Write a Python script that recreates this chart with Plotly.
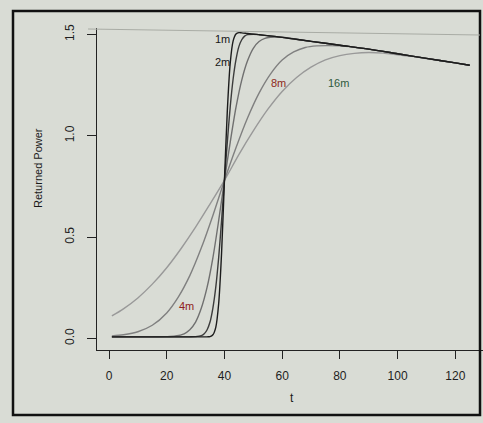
import plotly.graph_objects as go

# ---- data ----
t_1m = [1, 10, 20, 30, 34, 35, 36, 37, 38, 39, 40, 41, 42, 43, 44, 45, 46, 48, 50, 60, 70, 80, 90, 100, 110, 120, 125]
v_1m = [0.008, 0.008, 0.008, 0.008, 0.008, 0.009, 0.018, 0.055, 0.171, 0.419, 0.78, 1.123, 1.358, 1.467, 1.502,
        1.509, 1.508, 1.505, 1.502, 1.486, 1.466, 1.447, 1.428, 1.405, 1.382, 1.36, 1.348]

t_2m = [1, 10, 20, 25, 28, 30, 32, 33, 34, 35, 36, 37, 38, 39, 40, 41, 42, 43, 44, 45, 46, 47, 48, 50, 52, 55,
        60, 70, 80, 90, 100, 110, 120, 125]
v_2m = [0.008, 0.008, 0.008, 0.008, 0.008, 0.009, 0.014, 0.023, 0.043, 0.081, 0.150, 0.253, 0.398, 0.581, 0.78,
        0.969, 1.142, 1.279, 1.376, 1.440, 1.474, 1.492, 1.499, 1.501, 1.499, 1.494, 1.486, 1.466, 1.447, 1.428,
        1.405, 1.382, 1.36, 1.348]

t_4m = [1, 10, 15, 20, 23, 26, 28, 30, 32, 34, 36, 38, 40, 42, 44, 46, 48, 50, 52, 54, 56, 58, 60, 70, 80, 90,
        100, 110, 120, 125]
v_4m = [0.008, 0.008, 0.008, 0.009, 0.012, 0.023, 0.043, 0.081, 0.150, 0.253, 0.398, 0.581, 0.78, 0.968, 1.140,
        1.275, 1.370, 1.432, 1.465, 1.481, 1.486, 1.487, 1.486, 1.466, 1.447, 1.428, 1.405, 1.382, 1.36, 1.348]

t_8m = [1, 5, 10, 15, 20, 24, 28, 32, 36, 40, 44, 48, 52, 56, 60, 64, 68, 72, 76, 80, 85, 90, 100, 110, 120, 125]
v_8m = [0.012, 0.018, 0.033, 0.065, 0.126, 0.204, 0.310, 0.447, 0.607, 0.78, 0.941, 1.088, 1.211, 1.306, 1.374,
        1.414, 1.436, 1.444, 1.445, 1.444, 1.437, 1.428, 1.405, 1.382, 1.36, 1.348]

t_16m = [1, 5, 10, 15, 20, 25, 30, 35, 40, 45, 50, 55, 60, 65, 70, 75, 80, 85, 90, 95, 100, 105, 110, 120, 125]
v_16m = [0.111, 0.146, 0.200, 0.268, 0.349, 0.444, 0.549, 0.663, 0.78, 0.907, 1.024, 1.130, 1.219, 1.288, 1.339,
         1.375, 1.396, 1.407, 1.411, 1.408, 1.400, 1.392, 1.381, 1.36, 1.348]

labels = ["1m", "2m", "4m", "8m", "16m"]
label_t = [39.2, 39.5, 27.0, 58.9, 79.4]
label_v = [1.477, 1.364, 0.159, 1.26, 1.26]
label_colors = ["#151515", "#151515", "#8e2020", "#8e2a20", "#2f5a3c"]

x_ticks = [0, 20, 40, 60, 80, 100, 120]
y_ticks = [0.0, 0.5, 1.0, 1.5]
y_ticktext = ["0.0", "0.5", "1.0", "1.5"]

# ---- figure ----
BG = "#d9dcd5"
W, H = 483, 423
L, R, T, B = 97, 0, 28, 73
PW, PH = W - L - R, H - T - B


def px(x):
    return (x - L) / PW


def py(y):
    return (H - B - y) / PH


fig = go.Figure()
series = [
    (t_16m, v_16m, "#999999"),
    (t_8m, v_8m, "#808080"),
    (t_4m, v_4m, "#707070"),
    (t_2m, v_2m, "#3c3c3c"),
    (t_1m, v_1m, "#1c1c1c"),
]
for tt, vv, col in series:
    fig.add_trace(go.Scatter(x=tt, y=vv, mode="lines",
                             line=dict(color=col, width=1.4, shape="spline", smoothing=0.8),
                             hoverinfo="skip"))

for lab, lt, lv, lc in zip(labels, label_t, label_v, label_colors):
    fig.add_annotation(x=lt, y=lv, text=lab, showarrow=False, xanchor="center", yanchor="middle",
                       font=dict(size=11, color=lc, family="Liberation Sans, Arial"))

fig.add_annotation(xref="paper", yref="paper", x=px(292), y=py(398), text="t", showarrow=False,
                   xanchor="center", yanchor="middle", font=dict(size=12, color="#1a1a1a"))
fig.add_annotation(xref="paper", yref="paper", x=px(38), y=py(168), text="Returned Power", showarrow=False,
                   xanchor="center", yanchor="middle", textangle=-90, font=dict(size=11, color="#1a1a1a"))

# outer figure frame of the printed page and faint page line
fig.add_shape(type="rect", xref="paper", yref="paper", x0=px(13), y0=py(11), x1=px(480), y1=py(415),
              line=dict(color="#111111", width=2.5))
fig.add_shape(type="line", xref="paper", yref="paper", x0=px(88), y0=py(29), x1=px(480), y1=py(35),
              line=dict(color="#a9aca5", width=1.2))

fig.update_layout(
    width=W, height=H, margin=dict(l=L, r=R, t=T, b=B),
    paper_bgcolor=BG, plot_bgcolor=BG, showlegend=False,
    font=dict(family="Liberation Sans, Arial", size=12, color="#1e1e1e"),
)
fig.update_xaxes(range=[-4.16, 129.6], tickvals=x_ticks, showline=True, linecolor="#222222", linewidth=1.3,
                 ticks="outside", ticklen=8, tickcolor="#222222", tickwidth=1.1, showgrid=False, zeroline=False,
                 ticklabelstandoff=6, tickfont=dict(size=12))
fig.update_yaxes(range=[-0.057, 1.532], tickvals=y_ticks, ticktext=y_ticktext, tickangle=-90, showline=True,
                 linecolor="#222222", linewidth=1.3, ticks="outside", ticklen=9, tickcolor="#222222",
                 tickwidth=1.1, showgrid=False, zeroline=False, ticklabelstandoff=8, tickfont=dict(size=12))

fig.write_html("out.html")
